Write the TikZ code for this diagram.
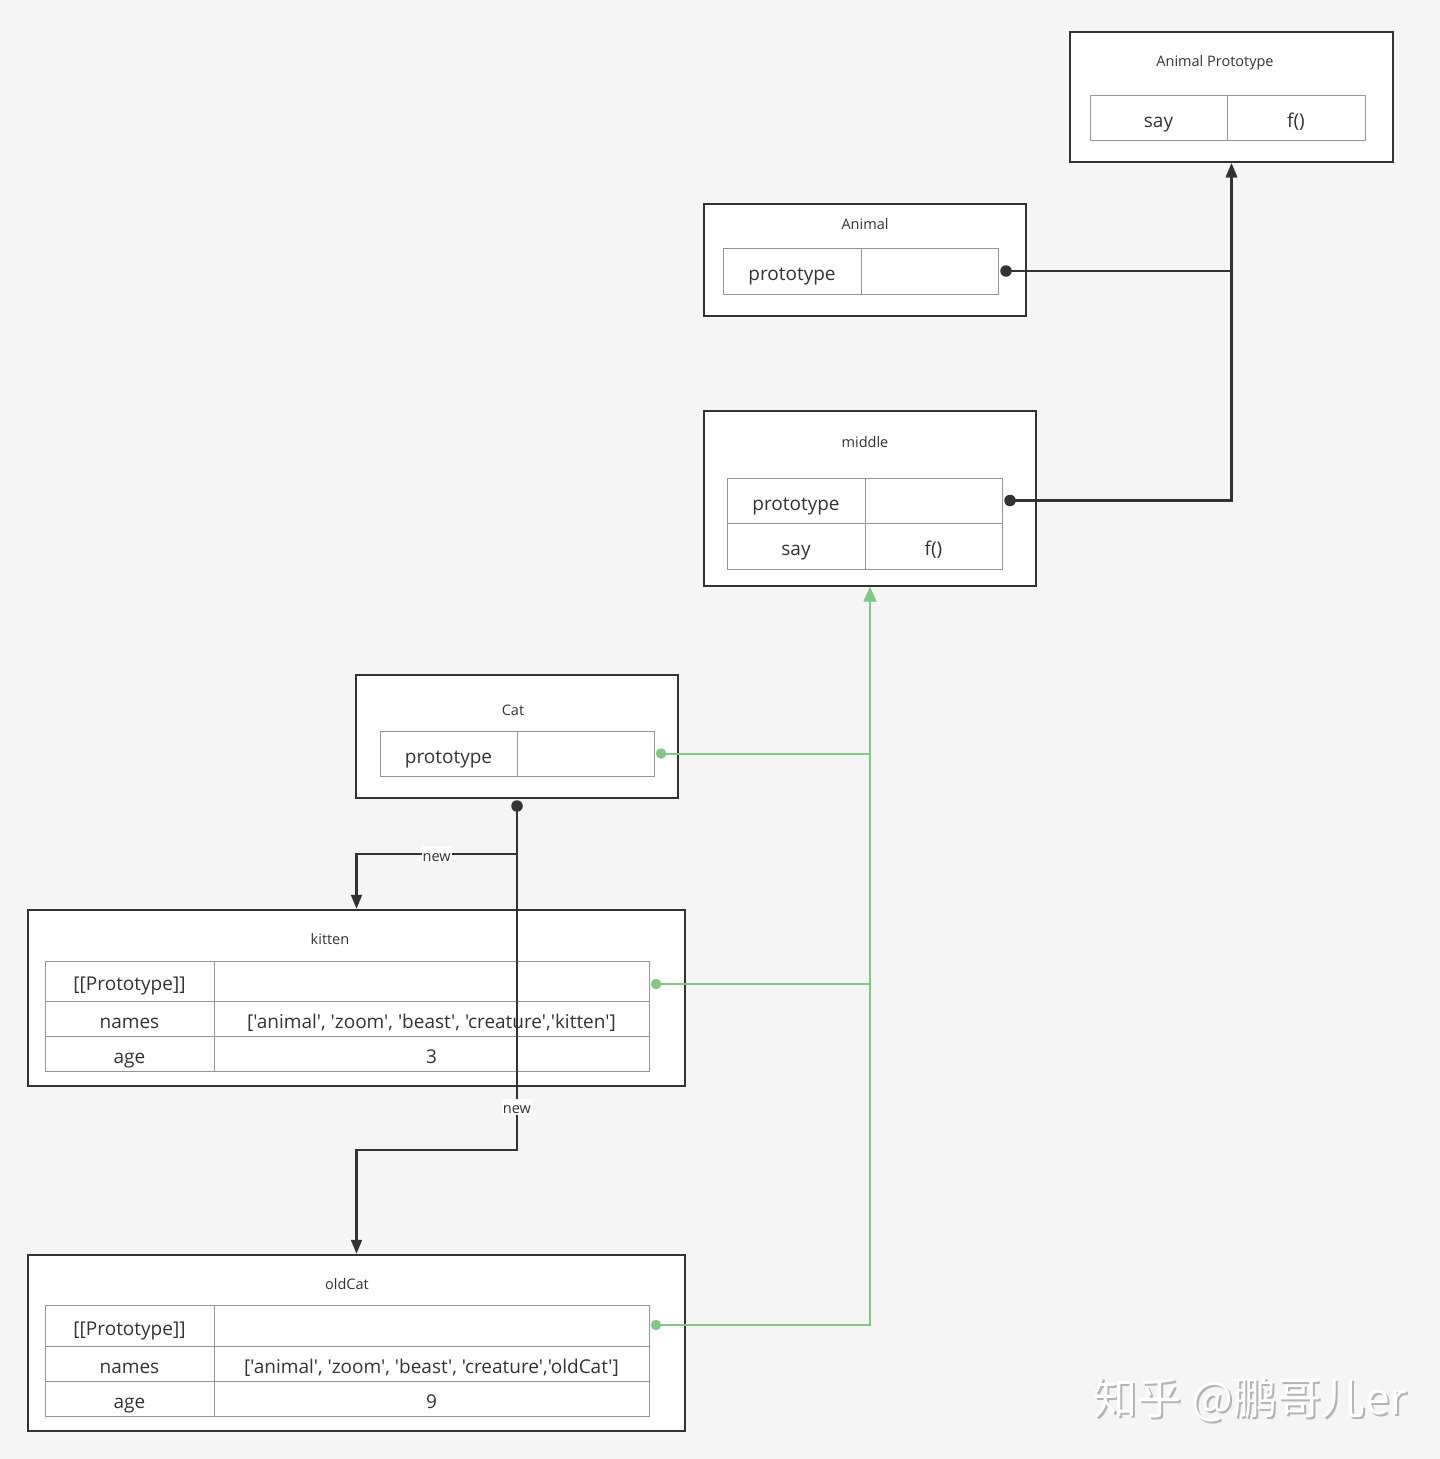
\documentclass[tikz,border=0pt]{standalone}
\usepackage{fontspec}
\setmainfont{Open Sans}[Ligatures=TeXOff]
\newfontfamily\cjkfont{Noto Sans CJK SC}
\usetikzlibrary{arrows.meta,calc}

\definecolor{bg}{HTML}{F5F5F5}
\definecolor{ink}{HTML}{333333}
\definecolor{grid}{HTML}{959595}
\definecolor{link}{HTML}{82C785}
\definecolor{shade}{HTML}{B4B4B4}

\tikzset{
  obox/.style={draw=ink, line width=2.5pt, fill=white, inner sep=0pt},
  title/.style={text=ink, font=\fontsize{14.5}{16}\selectfont, inner sep=0pt,
    text height=12pt, text depth=0pt},
  cell/.style={draw=grid, line width=1pt, fill=white, inner sep=0pt, text=ink,
    font=\fontsize{19}{22}\selectfont, anchor=center,
    text height=19pt, text depth=0pt},
  conn/.style={draw=ink, line width=2.2pt},
  greenconn/.style={draw=link, line width=2pt},
  darktip/.style={-{Triangle[length=14pt,width=11pt]}},
  greentip/.style={-{Triangle[length=14pt,width=12pt]}},
  lbl/.style={fill=white, text=ink, inner sep=1pt, font=\fontsize{14.5}{16}\selectfont,
    text height=14pt, text depth=0pt},
  darkdot/.style={circle, fill=ink, inner sep=0pt, minimum size=11.5pt},
  greendot/.style={circle, fill=link, inner sep=0pt, minimum size=10.5pt},
  wmark/.style={font=\cjkfont\fontsize{44}{48}\selectfont, inner sep=0pt},
}

\begin{document}
\begin{tikzpicture}[x=1pt,y=-1pt]
  % canvas
  \fill[bg] (0,0) rectangle (1440,1459);
  \useasboundingbox (0,0) rectangle (1440,1459);

  % Animal Prototype
  \node[obox, minimum width=323, minimum height=130] (ap) at (1231.5,97) {};
  \node[title] (apT) at (1215,60) {Animal Prototype};
  \node[cell, minimum width=137, minimum height=45] (apL) at (1158.5,117.5) {say};
  \node[cell, minimum width=138, minimum height=45] (apR) at (1296,117.5) {f()};

  % Animal
  \node[obox, minimum width=322, minimum height=112] (an) at (865,260) {};
  \node[title] (anT) at (865,223) {Animal};
  \node[cell, minimum width=138, minimum height=46] (anL) at (792,271) {prototype};
  \node[cell, minimum width=137, minimum height=46] (anR) at (929.5,271) {};

  % middle
  \node[obox, minimum width=332, minimum height=175] (mi) at (870,498.5) {};
  \node[title] (miT) at (865,441) {middle};
  \node[cell, minimum width=138, minimum height=45] (miL1) at (796,500.5) {prototype};
  \node[cell, minimum width=137, minimum height=45] (miR1) at (933.5,500.5) {};
  \node[cell, minimum width=138, minimum height=46] (miL2) at (796,546) {say};
  \node[cell, minimum width=137, minimum height=46] (miR2) at (933.5,546) {f()};

  % Cat
  \node[obox, minimum width=322, minimum height=123] (cat) at (517,736.5) {};
  \node[title] (catT) at (513,709) {Cat};
  \node[cell, minimum width=137, minimum height=45] (catL) at (448.5,753.5) {prototype};
  \node[cell, minimum width=137, minimum height=45] (catR) at (585.5,753.5) {};

  % kitten
  \node[obox, minimum width=657, minimum height=176] (ki) at (356.5,998) {};
  \node[title] (kiT) at (330,938) {kitten};
  \node[cell, minimum width=169, minimum height=40] (kiL1) at (129.5,981) {[[Prototype]]};
  \node[cell, minimum width=435, minimum height=40] (kiR1) at (431.5,981) {};
  \node[cell, minimum width=169, minimum height=35] (kiL2) at (129.5,1018.5) {names};
  \node[cell, minimum width=435, minimum height=35] (kiR2) at (431.5,1018.5) {['animal', 'zoom', 'beast', 'creature','kitten']};
  \node[cell, minimum width=169, minimum height=35] (kiL3) at (129.5,1053.5) {age};
  \node[cell, minimum width=435, minimum height=35] (kiR3) at (431.5,1053.5) {3};

  % oldCat
  \node[obox, minimum width=657, minimum height=176] (oc) at (356.5,1343) {};
  \node[title] (ocT) at (347,1283) {oldCat};
  \node[cell, minimum width=169, minimum height=41] (ocL1) at (129.5,1325.5) {[[Prototype]]};
  \node[cell, minimum width=435, minimum height=41] (ocR1) at (431.5,1325.5) {};
  \node[cell, minimum width=169, minimum height=35] (ocL2) at (129.5,1363.5) {names};
  \node[cell, minimum width=435, minimum height=35] (ocR2) at (431.5,1363.5) {['animal', 'zoom', 'beast', 'creature','oldCat']};
  \node[cell, minimum width=169, minimum height=35] (ocL3) at (129.5,1398.5) {age};
  \node[cell, minimum width=435, minimum height=35] (ocR3) at (431.5,1398.5) {9};

  % link start points
  \coordinate (anOut)  at ([xshift=7.5pt]anR.east);
  \coordinate (miOut)  at ([xshift=7.5pt]miR1.east);
  \coordinate (catOut) at ([xshift=6.5pt]catR.east);
  \coordinate (kiOut)  at (656,984);
  \coordinate (ocOut)  at (656,1325);
  \coordinate (newOut) at (517,806);
  \coordinate (bendA)  at (517,854);
  \coordinate (bendB)  at (517,1150);

  % prototype links up to Animal Prototype
  \draw[conn, darktip] (anOut) -| (ap.south);
  \draw[conn, darktip] (miOut) -| (ap.south);
  \node[darkdot] (anDot) at (anOut) {};
  \node[darkdot] (miDot) at (miOut) {};

  % prototype links up to middle
  \draw[greenconn, greentip] (catOut) -| (mi.south);
  \draw[greenconn, greentip] (kiOut) -| (mi.south);
  \draw[greenconn, greentip] (ocOut) -| (mi.south);
  \node[greendot] (catDot) at (catOut) {};
  \node[greendot] (kiDot) at (kiOut) {};
  \node[greendot] (ocDot) at (ocOut) {};

  % instances created with new
  \draw[conn, darktip] (newOut) -- (bendA) -| node[lbl, pos=0.25] (newA) {new} (ki.north);
  \draw[conn, darktip] (newOut) -- node[lbl, pos=0.874] (newB) {new} (bendB) -| (oc.north);
  \node[darkdot] (newDot) at (newOut) {};

  % watermark
  \node[wmark, text=shade] (wmS) at (1252,1402) {知乎 @鹏哥儿er};
  \node[wmark, text=white] (wm) at (1250,1400) {知乎 @鹏哥儿er};
\end{tikzpicture}
\end{document}
